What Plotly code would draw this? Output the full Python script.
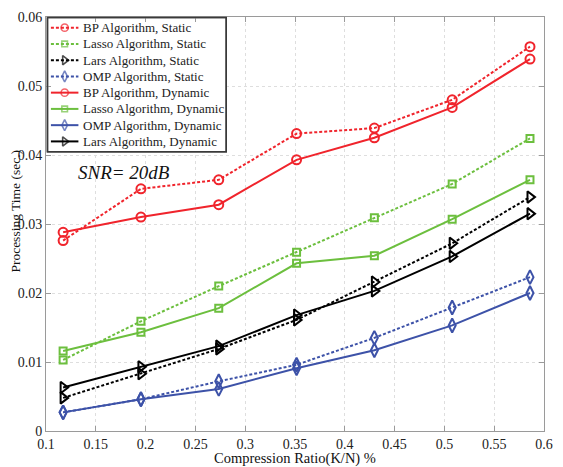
import plotly.graph_objects as go

# Compression ratios K/N (K = 15..75, N = 128)
ratio = [15/128, 25/128, 35/128, 45/128, 55/128, 65/128, 75/128]

bp_static = [0.0276, 0.0351, 0.0364, 0.0431, 0.0439, 0.0480, 0.0557]
lasso_static = [0.0103, 0.0159, 0.0210, 0.0259, 0.0309, 0.0358, 0.0424]
lars_static = [0.0048, 0.0083, 0.0119, 0.0161, 0.0216, 0.0272, 0.0339]
omp_static = [0.0027, 0.0046, 0.0072, 0.0096, 0.0135, 0.0179, 0.0223]

bp_dynamic = [0.0288, 0.0310, 0.0328, 0.0393, 0.0425, 0.0469, 0.0539]
lasso_dynamic = [0.0116, 0.0143, 0.0178, 0.0243, 0.0254, 0.0307, 0.0364]
omp_dynamic = [0.0027, 0.0046, 0.0061, 0.0091, 0.0117, 0.0153, 0.0200]
lars_dynamic = [0.0063, 0.0093, 0.0123, 0.0168, 0.0203, 0.0253, 0.0315]

x_ticks = [0.1, 0.15, 0.2, 0.25, 0.3, 0.35, 0.4, 0.45, 0.5, 0.55, 0.6]
x_labels = ["0.1", "0.15", "0.2", "0.25", "0.3", "0.35", "0.4", "0.45", "0.5", "0.55", "0.6"]
y_ticks = [0, 0.01, 0.02, 0.03, 0.04, 0.05, 0.06]
y_labels = ["0", "0.01", "0.02", "0.03", "0.04", "0.05", "0.06"]

RED = "#f0242c"
GREEN = "#6cbf3e"
BLUE = "#3d52a8"
BLACK = "#000000"
DOT = "3px,2px"
FONT = "Liberation Serif, Times New Roman, serif"

series = [
    ("BP Algorithm, Static", bp_static, RED, DOT, "circle-open", 9),
    ("Lasso Algorithm, Static", lasso_static, GREEN, DOT, "square-open", 7),
    ("Lars Algorithm, Static", lars_static, BLACK, DOT, "triangle-right-open", 10),
    ("OMP Algorithm, Static", omp_static, BLUE, DOT, "diamond-tall-open", 10),
    ("BP Algorithm, Dynamic", bp_dynamic, RED, "solid", "circle-open", 9),
    ("Lasso Algorithm, Dynamic", lasso_dynamic, GREEN, "solid", "square-open", 7),
    ("OMP Algorithm, Dynamic", omp_dynamic, BLUE, "solid", "diamond-tall-open", 10),
    ("Lars Algorithm, Dynamic", lars_dynamic, BLACK, "solid", "triangle-right-open", 10),
]

W, H = 563, 467
ML, MR, MT, MB = 46, 10, 15, 36
PW, PH = W - ML - MR, H - MT - MB


def px_to_paper(px, py):
    """Pixel position in the page -> paper coordinates of the plot area."""
    return (px - ML) / PW, 1 - (py - MT) / PH


fig = go.Figure()
for name, vals, color, dash, sym, size in series:
    fig.add_trace(go.Scatter(
        x=ratio, y=vals, name=name, mode="lines+markers",
        line=dict(color=color, width=2, dash=dash),
        marker=dict(symbol=sym, size=size, color=color, line=dict(color=color, width=2)),
        showlegend=False,
    ))

# Compact legend drawn on a pixel-coordinate overlay (x2/y2)
lg_left, lg_right, lg_top, lg_bottom = 47.5, 229.5, 15.5, 150.5
fig.add_trace(go.Scatter(
    x=[lg_left, lg_right, lg_right, lg_left, lg_left],
    y=[lg_top, lg_top, lg_bottom, lg_bottom, lg_top],
    xaxis="x2", yaxis="y2", mode="lines", fill="toself", fillcolor="white",
    line=dict(color="#3a3a3a", width=1.5), hoverinfo="skip", showlegend=False,
))
row_top, row_step = 25.7, 16.33
annotations = []
for i, (name, vals, color, dash, sym, size) in enumerate(series):
    yy = row_top + i * row_step
    fig.add_trace(go.Scatter(
        x=[51, 65, 79], y=[yy, yy, yy], xaxis="x2", yaxis="y2",
        mode="lines+markers", hoverinfo="skip", showlegend=False,
        line=dict(color=color, width=2, dash=dash),
        marker=dict(symbol=sym, size=[0, size * 0.8, 0], color=color,
                    line=dict(color=color, width=1.6)),
    ))
    annotations.append(dict(
        x=82, y=yy, xref="x2", yref="y2", text=name, showarrow=False,
        xanchor="left", yanchor="middle",
        font=dict(family=FONT, size=13, color="#222222"),
    ))

annotations.append(dict(
    x=77, y=171, xref="x2", yref="y2", text="<i>SNR= 20dB</i>", showarrow=False,
    xanchor="left", yanchor="middle",
    font=dict(family=FONT, size=19, color="#111111"),
))
tx, ty = px_to_paper(15, 210)
annotations.append(dict(
    x=tx, y=ty, xref="paper", yref="paper", text="Processing Time (sec.)",
    showarrow=False, textangle=-90, xanchor="center", yanchor="middle",
    font=dict(family=FONT, size=13.5, color="#111111"),
))
tx, ty = px_to_paper(299, 459)
annotations.append(dict(
    x=tx, y=ty, xref="paper", yref="paper", text="Compression Ratio(K/N) %",
    showarrow=False, xanchor="center", yanchor="middle",
    font=dict(family=FONT, size=14.5, color="#111111"),
))

axis_common = dict(
    showline=True, linecolor="#9a9a9a", linewidth=1, mirror="ticks",
    ticks="inside", ticklen=5, tickcolor="#9a9a9a",
    showgrid=True, gridcolor="#dedede", griddash="dot", gridwidth=1,
    zeroline=False, tickfont=dict(family=FONT, size=14, color="#222222"),
)

bx0, by0 = px_to_paper(lg_left, lg_bottom)
bx1, by1 = px_to_paper(lg_right, lg_top)

fig.update_layout(
    width=W, height=H,
    margin=dict(l=ML, r=MR, t=MT, b=MB),
    paper_bgcolor="white", plot_bgcolor="white",
    xaxis=dict(range=[0.1, 0.6], tickvals=x_ticks, ticktext=x_labels, **axis_common),
    yaxis=dict(range=[0, 0.06], tickvals=y_ticks, ticktext=y_labels, **axis_common),
    xaxis2=dict(range=[ML, W - MR], overlaying="x", anchor="y2", visible=False, fixedrange=True),
    yaxis2=dict(range=[H - MB, MT], overlaying="y", anchor="x2", visible=False, fixedrange=True),
    shapes=[dict(type="rect", xref="paper", yref="paper", x0=bx0, x1=bx1,
                 y0=by0, y1=by1, line=dict(color="#3a3a3a", width=1.5),
                 fillcolor="rgba(0,0,0,0)", layer="above")],
    annotations=annotations,
    showlegend=False,
)

fig.write_html("out.html")
